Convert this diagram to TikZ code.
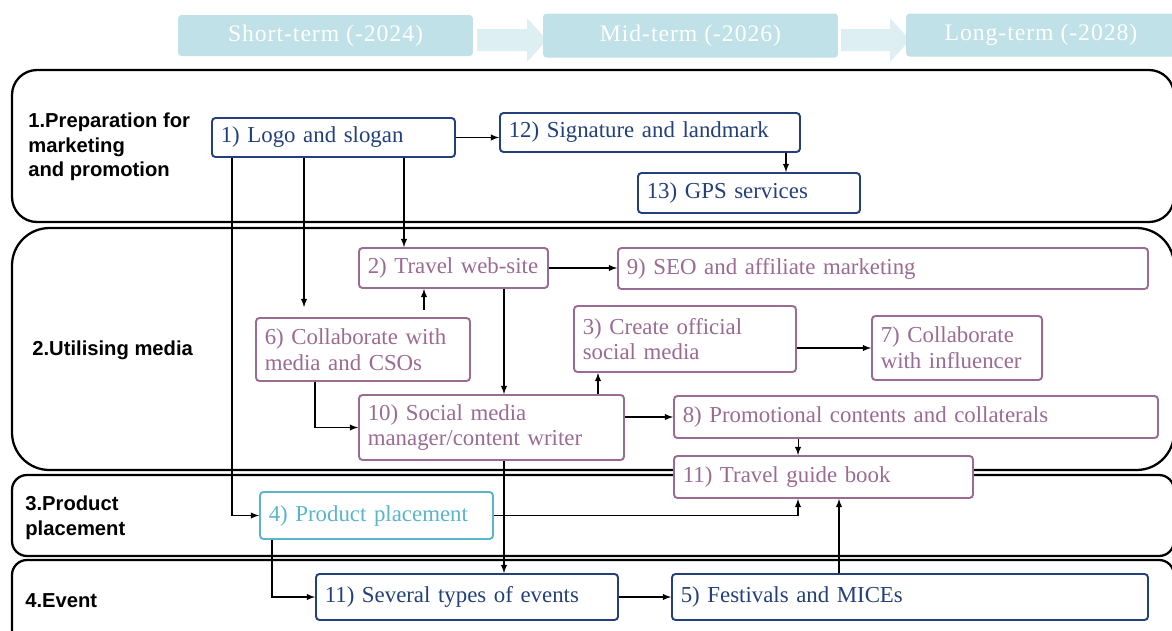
\documentclass[tikz,border=0pt]{standalone}
\usepackage{fontspec}
\setmainfont{Liberation Serif}
\newfontfamily\nodefam{Liberation Serif}
\newfontfamily\lblfam{Liberation Sans}
\newfontfamily\hdrfam[LetterSpace=4]{Liberation Serif}
\usepackage{tikz}
\usetikzlibrary{calc,positioning,arrows}
\definecolor{dkblue}{HTML}{24407A}
\definecolor{purp}{HTML}{9A6B93}
\definecolor{teal2}{HTML}{5BB5C8}
\definecolor{hdrfill}{HTML}{BFE1E7}
\definecolor{hdrarr}{HTML}{DDEFF3}

\begin{document}
\begin{tikzpicture}[x=0.02cm, y=-0.02cm]
\tikzstyle{bx}=[draw, rounded corners=2pt, line width=1.1pt, fill=white,
                inner xsep=5pt, inner ysep=2pt, align=left,
                font=\nodefam\fontsize{13}{14.7}\selectfont]
\tikzstyle{dk}=[bx, draw=dkblue, text=dkblue]
\tikzstyle{pu}=[bx, draw=purp, text=purp]
\tikzstyle{tl}=[bx, draw=teal2, text=teal2]
\tikzstyle{sec}=[draw, line width=1.3pt]
\tikzstyle{lbl}=[anchor=west, align=left, inner sep=0pt,
                 font=\lblfam\bfseries\fontsize{11.5}{14}\selectfont]
\tikzstyle{hdr}=[fill=hdrfill, rounded corners=2pt, text=white,
                 font=\hdrfam\fontsize{13.5}{15}\selectfont]
\tikzstyle{arr}=[-latex, line width=0.6pt]
\useasboundingbox (0,0) rectangle (1172,630);

% timeline
\fill[hdrarr] (477,29) -- (527,29) -- (527,18) -- (547,40) -- (527,62) -- (527,51) -- (477,51) -- cycle;
\fill[hdrarr] (841,29) -- (890,29) -- (890,18) -- (910,40) -- (890,62) -- (890,51) -- (841,51) -- cycle;
\node[hdr, minimum width=5.9cm, minimum height=0.82cm] (st) at (325.5,35.5) {Short-term (-2024)};
\node[hdr, minimum width=5.9cm, minimum height=0.88cm] (mt) at (690.5,35.5) {Mid-term (-2026)};
\node[hdr, minimum width=5.4cm, minimum height=0.86cm] (lt) at (1041,35) {Long-term (-2028)};

% sections
\draw[sec, rounded corners=0.5cm] (12,70) rectangle (1174,222);
\draw[sec, rounded corners=0.75cm] (12,228) rectangle (1174,470);
\draw[sec, rounded corners=0.3cm] (12,475) rectangle (1174,556);
\draw[sec, rounded corners=0.3cm] (12,560) rectangle (1174,680);
\node[lbl] (l1) at (28,147) {1.Preparation for\\marketing\\and promotion};
\node[lbl] (l2) at (32,350) {2.Utilising media};
\node[lbl] (l3) at (25,518) {3.Product\\placement};
\node[lbl] (l4) at (25,601) {4.Event};

% boxes
\node[dk, minimum width=4.86cm, minimum height=0.78cm, text width=4.51cm] (n1) at (333.5,137.5) {1) Logo and slogan};
\node[dk, minimum width=6cm, minimum height=0.78cm, text width=5.65cm] (n12) at (650,132.5) {12) Signature and landmark};
\node[dk, minimum width=4.44cm, minimum height=0.8cm, text width=4.09cm] (n13) at (749,193) {13) GPS services};
\node[pu, minimum width=3.78cm, minimum height=0.8cm, text width=3.43cm] (n2) at (453.5,268) {2) Travel web-site};
\node[pu, minimum width=10.6cm, minimum height=0.82cm, text width=10.25cm] (n9) at (883,268.5) {9) SEO and affiliate marketing};
\node[pu, minimum width=4.28cm, minimum height=1.26cm, text width=3.93cm] (n6) at (363,349.5) {6) Collaborate with\\media and CSOs};
\node[pu, minimum width=4.44cm, minimum height=1.32cm, text width=4.09cm] (n3) at (685,339) {3) Create official\\social media};
\node[pu, minimum width=3.4cm, minimum height=1.28cm, text width=3.05cm] (n7) at (957,348) {7) Collaborate\\with influencer};
\node[pu, minimum width=5.3cm, minimum height=1.3cm, text width=4.95cm] (n10) at (491.5,427.5) {10) Social media\\manager/content writer};
\node[pu, minimum width=9.68cm, minimum height=0.84cm, text width=9.33cm] (n8) at (916,417) {8) Promotional contents and collaterals};
\node[pu, minimum width=5.98cm, minimum height=0.84cm, text width=5.63cm] (n11b) at (823.5,477) {11) Travel guide book};
\node[tl, minimum width=4.66cm, minimum height=0.94cm, text width=4.31cm] (n4) at (376.5,515.5) {4) Product placement};
\node[dk, minimum width=6.04cm, minimum height=0.92cm, text width=5.69cm] (n11) at (467,597) {11) Several types of events};
\node[dk, minimum width=9.52cm, minimum height=0.92cm, text width=9.17cm] (n5) at (910,597) {5) Festivals and MICEs};

% connectors
\foreach \i/\j in {n1/n12,n2/n9,n11/n5}{\draw[arr] (\i.east) -- (\i.east -| \j.west);}
\foreach \i/\j in {n3/n7,n10/n8}{\draw[arr] (\j.west -| \i.east) -- (\j.west);}
\draw[arr] ([xshift=-0.3cm]n12.south east) -- ([xshift=-0.3cm]n12.south east |- n13.north);
\draw[arr] ([xshift=0.92cm]n2.north west |- n1.south) -- ([xshift=0.92cm]n2.north west);
\draw[arr] ([xshift=0.98cm]n6.north west |- n1.south) -- ([xshift=0.98cm,yshift=0.2cm]n6.north west);
\draw[arr] ([xshift=0.42cm]n1.south west) |- (n4.west);
\draw[arr] ([xshift=3.38cm,yshift=0.15cm]n6.north west) -- ([xshift=3.38cm]n6.north west |- n2.south);
\draw[arr] ([xshift=2.92cm]n2.south west) -- ([xshift=2.92cm]n2.south west |- n10.north);
\draw[arr] ([xshift=1.2cm]n6.south west) |- (n10.west);
\draw[arr] ([xshift=0.5cm]n3.south west |- n10.north) -- ([xshift=0.5cm]n3.south west);
\draw[arr] ([xshift=2.5cm]n8.south west) -- ([xshift=2.5cm]n8.south west |- n11b.north);
\draw[arr] ([xshift=2.92cm]n10.south west) -- ([xshift=2.92cm]n10.south west |- n11.north);
\draw[arr] (n4.east) -| ([xshift=2.5cm]n11b.south west);
\draw[arr] ([xshift=0.26cm]n4.south west) |- (n11.west);
\draw[arr] ([xshift=3.36cm]n5.north west) -- ([xshift=3.36cm]n5.north west |- n11b.south);
\end{tikzpicture}
\end{document}
